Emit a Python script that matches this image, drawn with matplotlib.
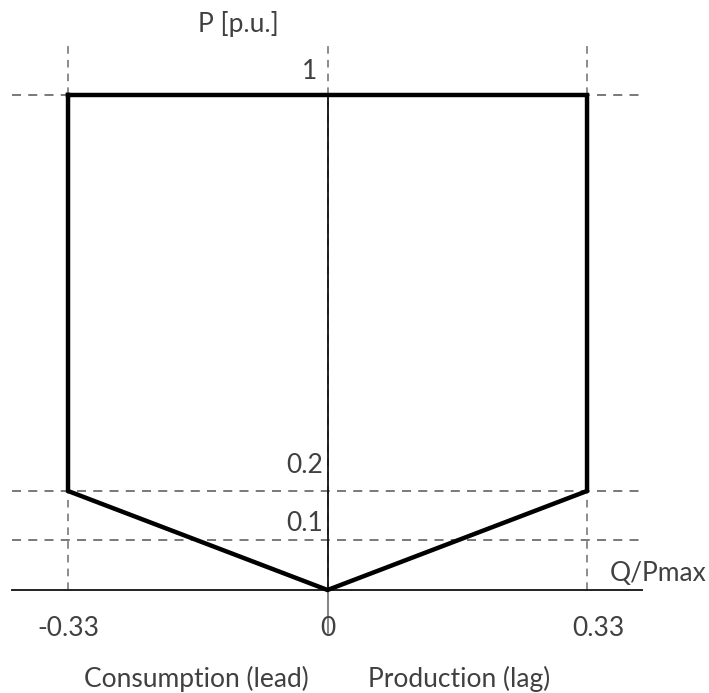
import numpy as np
import matplotlib.pyplot as plt

#%% Data
# P-Q capability polygon (Q/Pmax, P in p.u.)
q_pts = [-0.33, 0.33, 0.33, 0.0, -0.33, -0.33]
p_pts = [1.0, 1.0, 0.2, 0.0, 0.2, 1.0]

q_ticks = [-0.33, 0.0, 0.33]
q_tick_labels = ['-0.33', '0', '0.33']
p_levels = [1.0, 0.2, 0.1]
p_level_labels = ['1', '0.2', '0.1']

#%% Figure
plt.rcParams['font.family'] = ['Lato', 'DejaVu Sans']
fig = plt.figure(figsize=(7.09, 6.93), dpi=100)
ax = fig.add_axes([0, 0, 1, 1])
ax.set_xlim(-0.4165, 0.4851)
ax.set_ylim(-0.2081, 1.1919)
ax.axis('off')

grey = '#6e6e6e'
txt = '#404040'
dash = (0, (5, 4))
fs = 19

x_left, x_right = -0.401, 0.400                                             # extent of horizontal lines

# dashed guide lines
for p in p_levels:
    ax.plot([x_left, x_right], [p, p], color=grey, lw=1.3, ls=dash)
for q in q_ticks:
    ax.plot([q, q], [0, 1.10], color=grey, lw=1.1, ls=dash)

# axes
ax.plot([x_left, x_right], [0, 0], color='#222222', lw=1.4)
ax.plot([0, 0], [0, 1.0], color='#111111', lw=1.3)
ax.plot([0, 0], [-0.087, 0], color=grey, lw=1.2)

# capability curve
ax.plot(q_pts, p_pts, color='black', lw=3.2, solid_joinstyle='miter')

# labels (placement slightly off the lines, as in the sketch)
p_lab_x = [-0.013, -0.006, -0.006]
p_lab_y = [1.048, 0.2525, 0.135]
for x, y, lab in zip(p_lab_x, p_lab_y, p_level_labels):
    ax.text(x, y, lab, ha='right', va='center', fontsize=fs, color=txt)
q_lab_x = [-0.33, 0.0, 0.345]
for x, lab in zip(q_lab_x, q_tick_labels):
    ax.text(x, -0.077, lab, ha='center', va='center', fontsize=fs, color=txt)

ax.text(-0.113, 1.143, 'P [p.u.]', ha='center', va='center', fontsize=fs, color=txt)
ax.text(0.4825, 0.034, 'Q/Pmax', ha='right', va='center', fontsize=fs, color=txt)
ax.text(-0.167, -0.196, 'Consumption (lead)', ha='center', va='baseline', fontsize=fs, color=txt)
ax.text(0.167, -0.196, 'Production (lag)', ha='center', va='baseline', fontsize=fs, color=txt)

fig.savefig('out.png', dpi=100, facecolor='white')
